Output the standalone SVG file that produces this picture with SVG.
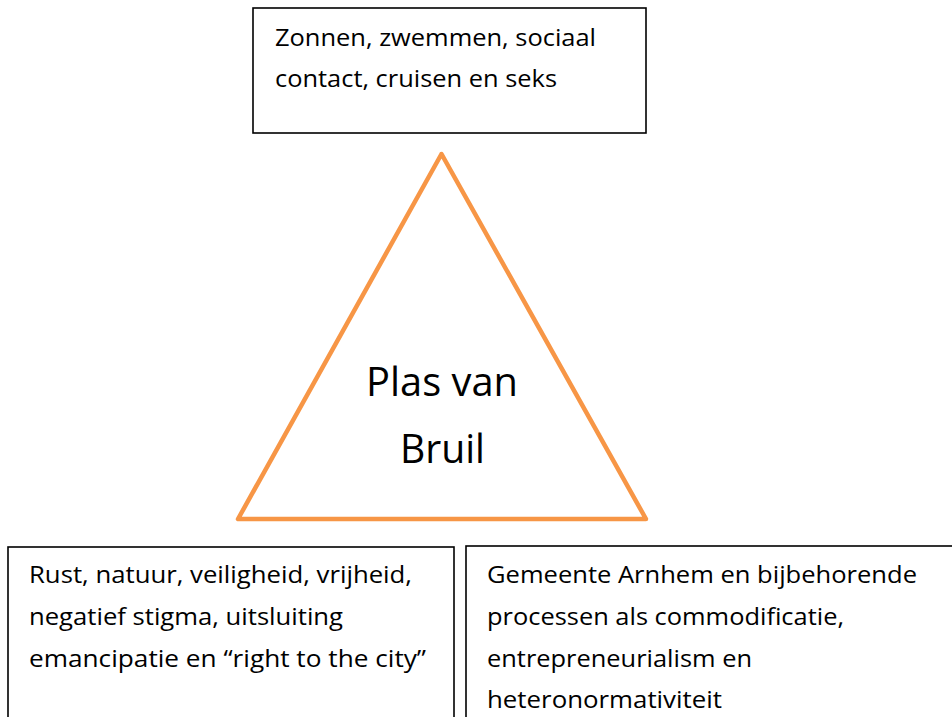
<svg xmlns="http://www.w3.org/2000/svg" width="952" height="717" viewBox="0 0 952 717">
  <style>
    .box { fill: #ffffff; stroke: #000000; stroke-width: 1.6; }
    .tri { fill: #ffffff; stroke: #F79646; stroke-width: 4.5; stroke-linejoin: round; }
    .t { font-family: "Open Sans", "Noto Sans", "Liberation Sans", sans-serif; font-size: 24px; fill: #000000; }
    .big { font-family: "Open Sans", "Noto Sans", "Liberation Sans", sans-serif; font-size: 40px; fill: #000000; text-anchor: middle; }
  </style>
  <rect width="952" height="717" fill="#ffffff"/>
  <g id="connectors"></g>
  <g id="top-box">
    <rect class="box" x="253" y="8" width="393" height="125"/>
    <text class="t" x="275" y="46" textLength="321" lengthAdjust="spacingAndGlyphs">Zonnen, zwemmen, sociaal</text>
    <text class="t" x="275" y="87" textLength="282" lengthAdjust="spacingAndGlyphs">contact, cruisen en seks</text>
  </g>
  <g id="triangle">
    <polygon class="tri" points="441.5,154 238,519 646,519"/>
    <text class="big" x="442" y="396" textLength="152" lengthAdjust="spacingAndGlyphs">Plas van</text>
    <text class="big" x="442.5" y="463" textLength="85" lengthAdjust="spacingAndGlyphs">Bruil</text>
  </g>
  <g id="left-box">
    <rect class="box" x="8" y="547" width="446" height="180"/>
    <text class="t" x="29" y="583" textLength="383" lengthAdjust="spacingAndGlyphs">Rust, natuur, veiligheid, vrijheid,</text>
    <text class="t" x="29" y="625" textLength="314" lengthAdjust="spacingAndGlyphs">negatief stigma, uitsluiting</text>
    <text class="t" x="29" y="667" textLength="397" lengthAdjust="spacingAndGlyphs">emancipatie en “right to the city”</text>
  </g>
  <g id="right-box">
    <rect class="box" x="466" y="546" width="500" height="180"/>
    <text class="t" x="487" y="583" textLength="430" lengthAdjust="spacingAndGlyphs">Gemeente Arnhem en bijbehorende</text>
    <text class="t" x="487" y="625" textLength="357" lengthAdjust="spacingAndGlyphs">processen als commodificatie,</text>
    <text class="t" x="487" y="667" textLength="265" lengthAdjust="spacingAndGlyphs">entrepreneurialism en</text>
    <text class="t" x="487" y="708" textLength="235" lengthAdjust="spacingAndGlyphs">heteronormativiteit</text>
  </g>
</svg>
